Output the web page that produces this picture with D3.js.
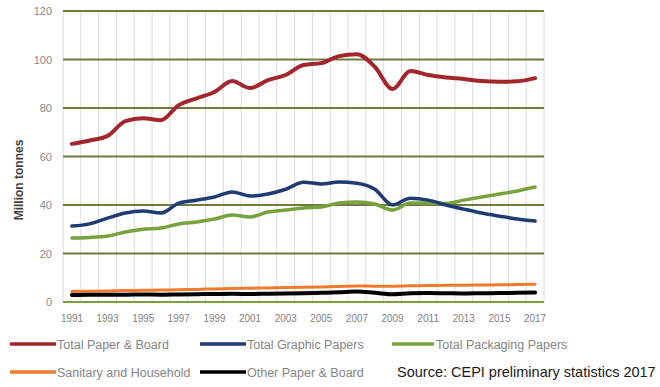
<!DOCTYPE html>
<html>
<head>
<meta charset="utf-8">
<script src="https://cdn.jsdelivr.net/npm/d3@7"></script>
<style>
  html, body { margin: 0; padding: 0; background: #fff; }
  svg { display: block; font-family: "Liberation Sans", Arial, sans-serif; }
</style>
</head>
<body>
<svg id="chart" width="660" height="387"></svg>
<script>
// CEPI production by grade, million tonnes
const years = d3.range(1991, 2018);
const yTicks = [0, 20, 40, 60, 80, 100, 120];
const xLabels = years.filter(y => (y - 1991) % 2 === 0);

const totalPaperBoard = [65.2, 66.6, 68.5, 74.6, 75.8, 75.0, 81.2, 84.0, 86.6, 91.1, 88.2, 91.5, 93.6, 97.7,
  98.5, 101.4, 102.2, 97.0, 87.8, 95.3, 93.6, 92.6, 92.0, 91.1, 90.8, 91.0, 92.3];
const totalGraphic = [31.3, 32.2, 34.6, 36.7, 37.5, 36.7, 40.8, 42.0, 43.3, 45.4, 43.7, 44.5, 46.5, 49.4,
  48.7, 49.5, 49.0, 46.5, 40.0, 42.8, 42.0, 40.0, 38.3, 36.7, 35.4, 34.2, 33.4];
const totalPackaging = [26.4, 26.6, 27.2, 28.9, 30.0, 30.5, 32.2, 33.0, 34.2, 35.9, 35.1, 37.1, 37.9, 38.8,
  39.2, 40.8, 41.2, 40.4, 37.9, 40.8, 40.8, 40.6, 42.0, 43.3, 44.5, 45.8, 47.4];
const sanitary = [4.3, 4.4, 4.5, 4.7, 4.8, 4.9, 5.1, 5.2, 5.4, 5.6, 5.7, 5.8, 6.0, 6.1,
  6.2, 6.4, 6.6, 6.5, 6.5, 6.7, 6.8, 6.9, 6.9, 7.0, 7.1, 7.2, 7.3];
const otherPaper = [2.9, 3.0, 3.0, 3.0, 3.1, 3.0, 3.1, 3.2, 3.3, 3.4, 3.3, 3.4, 3.5, 3.6,
  3.8, 4.0, 4.3, 3.8, 3.2, 3.6, 3.7, 3.6, 3.5, 3.6, 3.7, 3.8, 3.9];

const series = [
  { name: "Total Paper & Board",   values: totalPaperBoard, color: "#a3262c", width: 4 },
  { name: "Total Graphic Papers",  values: totalGraphic,    color: "#1f3b73", width: 3.5 },
  { name: "Total Packaging Papers",values: totalPackaging,  color: "#78a33c", width: 3.5 },
  { name: "Sanitary and Household",values: sanitary,        color: "#f07a2e", width: 3 },
  { name: "Other Paper & Board",   values: otherPaper,      color: "#000000", width: 4 }
];
// draw order: small series first, big ones on top
const drawOrder = [3, 4, 2, 1, 0];

const svg = d3.select("#chart");
const plot = { left: 63, right: 544, top: 11, bottom: 302 };

const x = d3.scalePoint().domain(years).range([plot.left, plot.right]).padding(0.5);
const y = d3.scaleLinear().domain([0, 120]).range([plot.bottom, plot.top]);
const step = x.step();

/* ── grid ─── */
const vBounds = d3.range(years.length + 1).map(i => plot.left + i * step);
svg.append("g")
  .selectAll("line")
  .data(vBounds)
  .join("line")
  .attr("x1", d => d).attr("x2", d => d)
  .attr("y1", plot.top).attr("y2", plot.bottom)
  .attr("stroke", "#dcdcdc")
  .attr("stroke-width", 1);

svg.append("g")
  .selectAll("line")
  .data(yTicks)
  .join("line")
  .attr("x1", plot.left).attr("x2", plot.right)
  .attr("y1", d => y(d)).attr("y2", d => y(d))
  .attr("stroke", d => d === 0 ? "#7aa044" : "#6e7a3f")
  .attr("stroke-width", 2);

/* ── axes labels ─── */
svg.append("g")
  .selectAll("text")
  .data(yTicks)
  .join("text")
  .attr("x", 52)
  .attr("y", d => y(d) + 4)
  .attr("text-anchor", "end")
  .attr("font-size", 11)
  .attr("fill", "#8a8a8a")
  .text(d => d);

svg.append("g")
  .selectAll("text")
  .data(xLabels)
  .join("text")
  .attr("x", d => x(d))
  .attr("y", 322)
  .attr("text-anchor", "middle")
  .attr("font-size", 11.5)
  .attr("textLength", 22)
  .attr("lengthAdjust", "spacingAndGlyphs")
  .attr("fill", "#7f7f7f")
  .text(d => d);

svg.append("text")
  .attr("transform", "translate(23,180) rotate(-90)")
  .attr("text-anchor", "middle")
  .attr("font-size", 12)
  .attr("font-weight", "bold")
  .attr("fill", "#404040")
  .text("Million tonnes");

/* ── lines ─── */
const line = d3.line()
  .x((d, i) => x(years[i]))
  .y(d => y(d))
  .curve(d3.curveMonotoneX);

svg.append("g")
  .selectAll("path")
  .data(drawOrder.map(i => series[i]))
  .join("path")
  .attr("d", d => line(d.values))
  .attr("fill", "none")
  .attr("stroke", d => d.color)
  .attr("stroke-width", d => d.width)
  .attr("stroke-linejoin", "round")
  .attr("stroke-linecap", "round");

/* ── legend ─── */
const legendPos = [
  { x: 10,  y: 344 }, { x: 200, y: 344 }, { x: 392, y: 344 },
  { x: 10,  y: 372 }, { x: 200, y: 372 }
];
const lg = svg.append("g")
  .selectAll("g")
  .data(series)
  .join("g")
  .attr("transform", (d, i) => `translate(${legendPos[i].x},${legendPos[i].y})`);

lg.append("line")
  .attr("x1", 0).attr("x2", (d, i) => i === 2 ? 42 : 46)
  .attr("y1", 0).attr("y2", 0)
  .attr("stroke", d => d.color)
  .attr("stroke-width", 3.5);

lg.append("text")
  .attr("x", (d, i) => i === 2 ? 44 : 47)
  .attr("y", 4.5)
  .attr("font-size", 12.5)
  .attr("fill", "#858585")
  .text(d => d.name);

svg.append("text")
  .attr("x", 397)
  .attr("y", 377)
  .attr("font-size", 14.5)
  .attr("fill", "#1a1a1a")
  .text("Source: CEPI preliminary statistics 2017");
</script>
</body>
</html>
